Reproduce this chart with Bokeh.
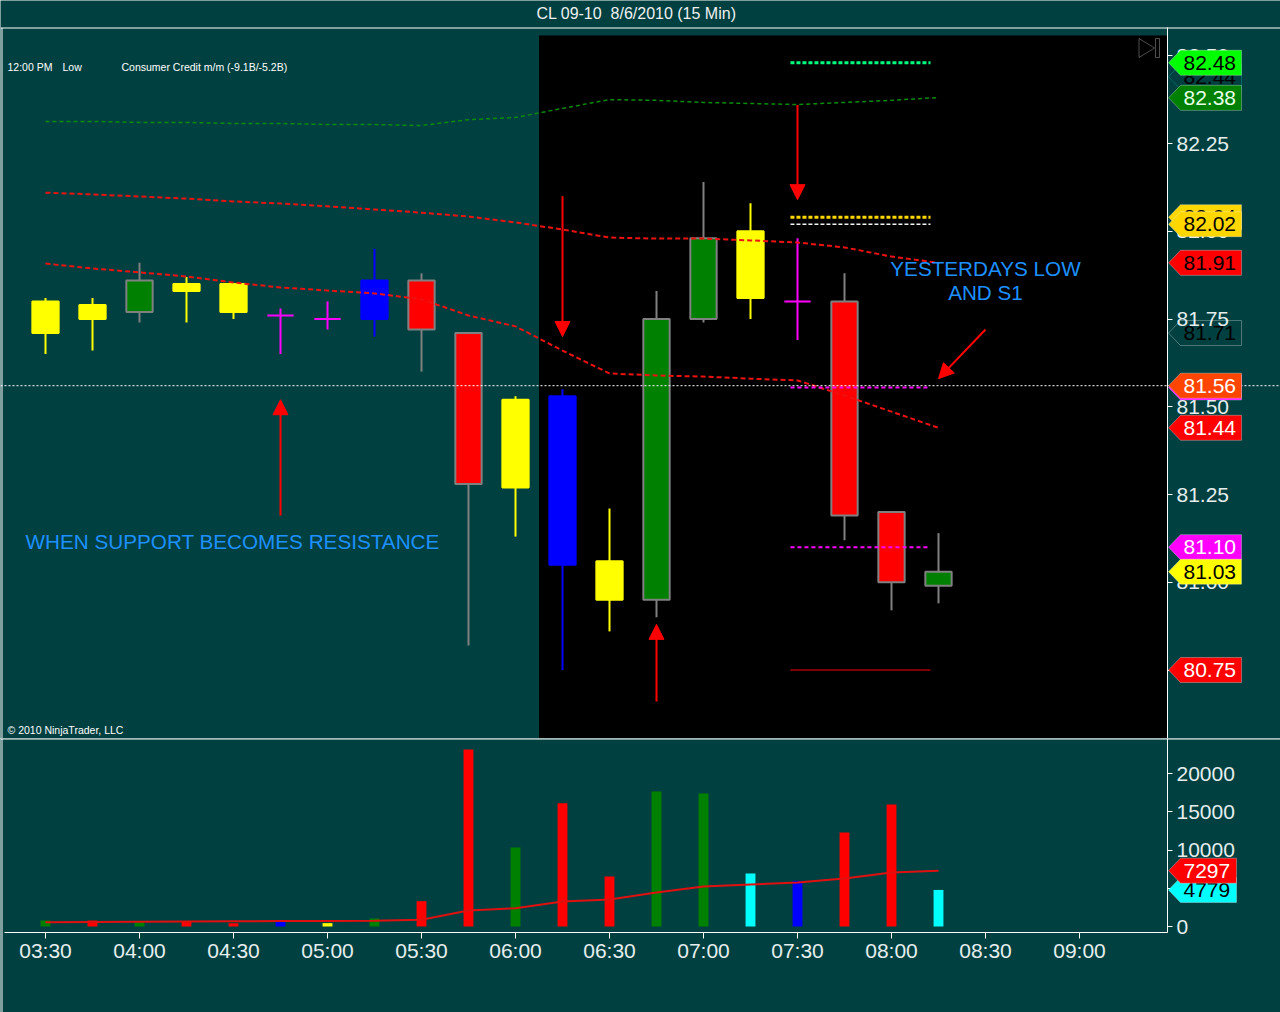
from bokeh.embed import file_html
from bokeh.layouts import column
from bokeh.models import (Arrow, BoxAnnotation, ColumnDataSource, FixedTicker, Label,
                          NormalHead, NumeralTickFormatter, PolyAnnotation, Range1d, Span)
from bokeh.plotting import figure
from bokeh.resources import INLINE

# CL 09-10, 15 minute bars, 03:30 .. 08:15 on 8/6/2010
bar_time = ["03:30", "03:45", "04:00", "04:15", "04:30", "04:45", "05:00", "05:15", "05:30", "05:45",
            "06:00", "06:15", "06:30", "06:45", "07:00", "07:15", "07:30", "07:45", "08:00", "08:15"]
opens = [81.80, 81.75, 81.77, 81.85, 81.85, 81.76, 81.75, 81.75, 81.86, 81.71,
         81.27, 81.53, 81.06, 80.95, 81.75, 82.00, 81.80, 81.80, 81.20, 80.99]
highs = [81.81, 81.81, 81.91, 81.87, 81.85, 81.78, 81.80, 81.95, 81.88, 81.71,
         81.53, 81.55, 81.21, 81.83, 82.14, 82.08, 81.98, 81.88, 81.20, 81.14]
lows = [81.65, 81.66, 81.74, 81.74, 81.75, 81.65, 81.72, 81.70, 81.60, 80.82,
        81.13, 80.75, 80.86, 80.90, 81.74, 81.75, 81.69, 81.12, 80.92, 80.94]
closes = [81.71, 81.79, 81.86, 81.83, 81.77, 81.76, 81.75, 81.86, 81.72, 81.28,
          81.52, 81.05, 80.95, 81.75, 81.98, 81.81, 81.80, 81.19, 81.00, 81.03]
candle_color = ["yellow", "yellow", "green", "yellow", "yellow", "magenta", "magenta", "blue", "red", "red",
                "yellow", "blue", "yellow", "green", "green", "yellow", "magenta", "red", "red", "green"]

volume = [780, 780, 570, 700, 440, 700, 440, 1050, 3310, 23140,
          10330, 16120, 6540, 17650, 17390, 6930, 5970, 12290, 15950, 4779]
volume_color = ["green", "red", "green", "red", "red", "blue", "yellow", "green", "red", "red",
                "green", "red", "red", "green", "green", "cyan", "blue", "red", "red", "cyan"]
volume_sma = [560, 590, 615, 650, 680, 705, 730, 760, 880, 2090,
              2390, 3270, 3530, 4440, 5230, 5490, 5750, 6270, 7060, 7297]

upper_band = [82.313, 82.313, 82.310, 82.310, 82.307, 82.307, 82.304, 82.304, 82.301, 82.318,
              82.324, 82.350, 82.375, 82.373, 82.367, 82.364, 82.361, 82.367, 82.373, 82.381]
upper_avg = [82.110, 82.105, 82.099, 82.093, 82.085, 82.079, 82.071, 82.062, 82.053, 82.042,
             82.025, 82.005, 81.982, 81.979, 81.979, 81.974, 81.968, 81.954, 81.928, 81.910]
lower_avg = [81.908, 81.894, 81.883, 81.871, 81.854, 81.840, 81.831, 81.823, 81.806, 81.760,
             81.729, 81.660, 81.595, 81.589, 81.586, 81.580, 81.575, 81.532, 81.486, 81.440]

# horizontal levels drawn from the 07:30 bar to the 08:15 bar
level_price = [82.48, 82.04, 82.02, 81.555, 81.10, 80.75]
level_color = ["#00ff7f", "#ffd700", "#f4f4f4", "#ff00ff", "#ff00ff", "#ff0000"]
level_dash = ["4 2", "4 2", "4 2", "4 3", "4 3", "solid"]
level_width = [3, 3, 1.5, 2, 2, 1]
line_price = 81.56
session_start = 10.5

# price markers on the right axis
tag_price = [82.44, 82.48, 82.38, 82.04, 82.02, 81.91, 81.71, 81.555, 81.56, 81.44, 81.10, 81.03, 80.75]
tag_fill = [None, "#00ff00", "#008000", "#ffd700", "#ffd700", "#ff0000", None, "#ff00ff",
            "#ff4500", "#ff0000", "#ff00ff", "#ffff00", "#ff0000"]
tag_ink = ["#000000", "#000000", "#e8ffe8", "#000000", "#000000", "#000000", "#000000", None,
           "#ffffff", "#ffffff", "#ffffff", "#000000", "#ffffff"]
tag_edge = ["#00c8c8"] + ["#ffffff"] * 12
vol_tag = [4779, 7297]
vol_tag_fill = ["#00ffff", "#ff0000"]
vol_tag_ink = ["#000000", "#ffffff"]

price_ticks = [80.75, 81.00, 81.25, 81.50, 81.75, 82.00, 82.25, 82.50]
volume_ticks = [0, 5000, 10000, 15000, 20000]
axis_times = ["03:30", "04:00", "04:30", "05:00", "05:30", "06:00",
              "06:30", "07:00", "07:30", "08:00", "08:30", "09:00"]

# red arrows: bar position and price at tail and head
arrow_x0 = [5, 11, 13, 16, 20.0]
arrow_x1 = [5, 11, 13, 16, 19.0]
arrow_y0 = [81.19, 82.10, 80.66, 82.36, 81.72]
arrow_y1 = [81.52, 81.70, 80.88, 82.09, 81.58]

BG = "#004040"
FG = "#e6eeee"
FONT = "Liberation Sans"
PALETTE = {"yellow": "#ffff00", "green": "#008000", "blue": "#0000ff", "red": "#ff0000",
           "magenta": "#ff00ff", "cyan": "#00ffff"}

# page pixel -> data helpers
FIRST_BAR_PX, BAR_PX = 45, 47
PRICE_PX, PRICE_AT, PX_PER_DOLLAR = 143, 82.25, 351
VOL_ZERO_PX, PX_PER_VOL = 926, 76.5 / 10000
AXIS_PX = 1167


def bx(px):
    return (px - FIRST_BAR_PX) / BAR_PX


def py(px):
    return PRICE_AT - (px - PRICE_PX) / PX_PER_DOLLAR


def vy(px):
    return (VOL_ZERO_PX - px) / PX_PER_VOL


def style(p, ticks, fmt, bounds):
    p.background_fill_color = BG
    p.border_fill_color = BG
    p.outline_line_color = None
    p.grid.visible = False
    ax = p.yaxis[0]
    ax.fixed_location = bx(AXIS_PX)
    ax.bounds = bounds
    ax.ticker = FixedTicker(ticks=ticks)
    ax.formatter = NumeralTickFormatter(format=fmt)
    ax.axis_line_color = "white"
    ax.major_tick_line_color = "white"
    ax.major_tick_out = 5
    ax.major_tick_in = 0
    ax.minor_tick_line_color = None
    ax.major_label_standoff = 4
    ax.major_label_text_color = FG
    ax.major_label_text_font = FONT
    ax.major_label_text_font_size = "21px"


def add_tag(p, y, half, right, fill, edge, ink, text):
    xs = [bx(1168), bx(1180), bx(right), bx(right), bx(1180)]
    ys = [y, y + half, y + half, y - half, y - half]
    p.add_layout(PolyAnnotation(xs=xs, ys=ys, fill_color=fill, fill_alpha=1 if fill else 0,
                                line_color=edge, line_width=1))
    if ink:
        p.add_layout(Label(x=bx(1183), y=y, text=text, text_baseline="middle", text_color=ink,
                           text_font=FONT, text_font_size="21px"))


def note(p, x, y, text, size, color, align="left"):
    p.add_layout(Label(x=x, y=y, text=text, text_baseline="middle", text_align=align,
                       text_color=color, text_font=FONT, text_font_size=size))


x_range = Range1d(bx(0), bx(1280))
bars = list(range(len(opens)))

# ---- price panel ----
p = figure(width=1280, height=738, x_range=x_range, y_range=Range1d(py(738), py(0)),
           x_axis_location=None, y_axis_location="right", toolbar_location=None,
           output_backend="svg", title=None, min_border=0)
style(p, price_ticks, "0.00", (py(738), py(27)))

p.add_layout(BoxAnnotation(left=session_start, right=bx(AXIS_PX), top=py(35), fill_color="black",
                           fill_alpha=1, line_color=None, level="underlay"))

edge = ["#808080" if c in ("green", "red") else PALETTE[c] for c in candle_color]
src = ColumnDataSource(dict(x=bars, high=highs, low=lows,
                            top=[max(o, c) for o, c in zip(opens, closes)],
                            bottom=[min(o, c) for o, c in zip(opens, closes)],
                            fill=[PALETTE[c] for c in candle_color], edge=edge))
p.segment("x", "high", "x", "low", line_color="edge", line_width=2, source=src)
p.vbar("x", width=0.56, top="top", bottom="bottom", fill_color="fill", line_color="edge",
       line_width=2, source=src)

p.line(bars, upper_band, line_color="#0a8a0a", line_width=1.5, line_dash="4 3")
p.line(bars, upper_avg, line_color="#ee1111", line_width=2, line_dash="5 3")
p.line(bars, lower_avg, line_color="#ee1111", line_width=2, line_dash="5 3")

for lv, lc, ld, lw in zip(level_price, level_color, level_dash, level_width):
    p.line([15.85, 18.83], [lv, lv], line_color=lc, line_dash=ld, line_width=lw)

p.add_layout(Span(location=line_price, dimension="width", line_color="white",
                  line_dash="2 2", line_width=1))

for x0, x1, y0, y1 in zip(arrow_x0, arrow_x1, arrow_y0, arrow_y1):
    p.add_layout(Arrow(end=NormalHead(size=15, fill_color="#ff0000", line_color="#ff0000"),
                       x_start=x0, y_start=y0, x_end=x1, y_end=y1,
                       line_color="#ff0000", line_width=2))

# panel frame lines
p.add_layout(Span(location=py(27.5), dimension="width", line_color="white", line_width=1))
p.add_layout(BoxAnnotation(left=bx(1), right=bx(2), top=py(27.5), fill_color="white",
                           fill_alpha=1, line_color=None))

# skip-to-end button
p.add_layout(PolyAnnotation(xs=[bx(1138.5), bx(1138.5), bx(1154)], ys=[py(38), py(57), py(47.5)],
                            fill_alpha=0, line_color="white", line_width=1))
p.add_layout(BoxAnnotation(left=bx(1155), right=bx(1159), top=py(38), bottom=py(57),
                           fill_alpha=0, line_color="white", line_width=1))

note(p, bx(636), py(13), "CL 09-10\u00a0 8/6/2010 (15 Min)", "16px", "#f0f0f0", "center")
note(p, bx(7), py(66), "12:00 PM", "10.5px", "#ffffff")
note(p, bx(62), py(66), "Low", "10.5px", "#ffffff")
note(p, bx(121), py(66), "Consumer Credit m/m (-9.1B/-5.2B)", "10.5px", "#ffffff")
note(p, bx(7), py(729), "\u00a9 2010 NinjaTrader, LLC", "10.5px", "#ffffff")
note(p, bx(25), py(541), "WHEN SUPPORT BECOMES RESISTANCE", "20.7px", "#1e90ff")
note(p, bx(985), py(268), "YESTERDAYS LOW", "20.7px", "#1e90ff", "center")
note(p, bx(985), py(292), "AND S1", "20.7px", "#1e90ff", "center")

for v, f, e, ink in zip(tag_price, tag_fill, tag_edge, tag_ink):
    add_tag(p, v, 12.5 / PX_PER_DOLLAR, 1241, f, e, ink, f"{v:.2f}")

# ---- volume panel ----
q = figure(width=1280, height=274, x_range=x_range, y_range=Range1d(vy(1012), vy(738)),
           y_axis_location="right", toolbar_location=None, output_backend="svg", title=None,
           min_border=0)
style(q, volume_ticks, "0", (vy(932), vy(738)))
q.vbar(bars, width=0.21, top=volume, fill_color=[PALETTE[c] for c in volume_color], line_color=None)
q.line(bars, volume_sma, line_color="#e01010", line_width=2)

xa = q.xaxis[0]
xa.fixed_location = vy(932)
xa.bounds = (bx(4), bx(AXIS_PX))
xa.ticker = FixedTicker(ticks=[2 * i for i in range(len(axis_times))])
xa.major_label_overrides = {2 * i: t for i, t in enumerate(axis_times)}
xa.axis_line_color = "white"
xa.major_tick_line_color = "white"
xa.major_tick_out = 6
xa.major_tick_in = 0
xa.minor_tick_line_color = None
xa.major_label_standoff = 0
xa.major_label_text_color = FG
xa.major_label_text_font = FONT
xa.major_label_text_font_size = "21px"

q.add_layout(Span(location=vy(738.5), dimension="width", line_color="white", line_width=1))
q.add_layout(BoxAnnotation(left=bx(1), right=bx(2), fill_color="white", fill_alpha=1, line_color=None))

for v, f, ink in zip(vol_tag, vol_tag_fill, vol_tag_ink):
    add_tag(q, v, 12.5 / PX_PER_VOL, 1236, f, "#ffffff", ink, str(v))

layout = column(p, q)
open("out.html", "w").write(file_html(layout, INLINE))
